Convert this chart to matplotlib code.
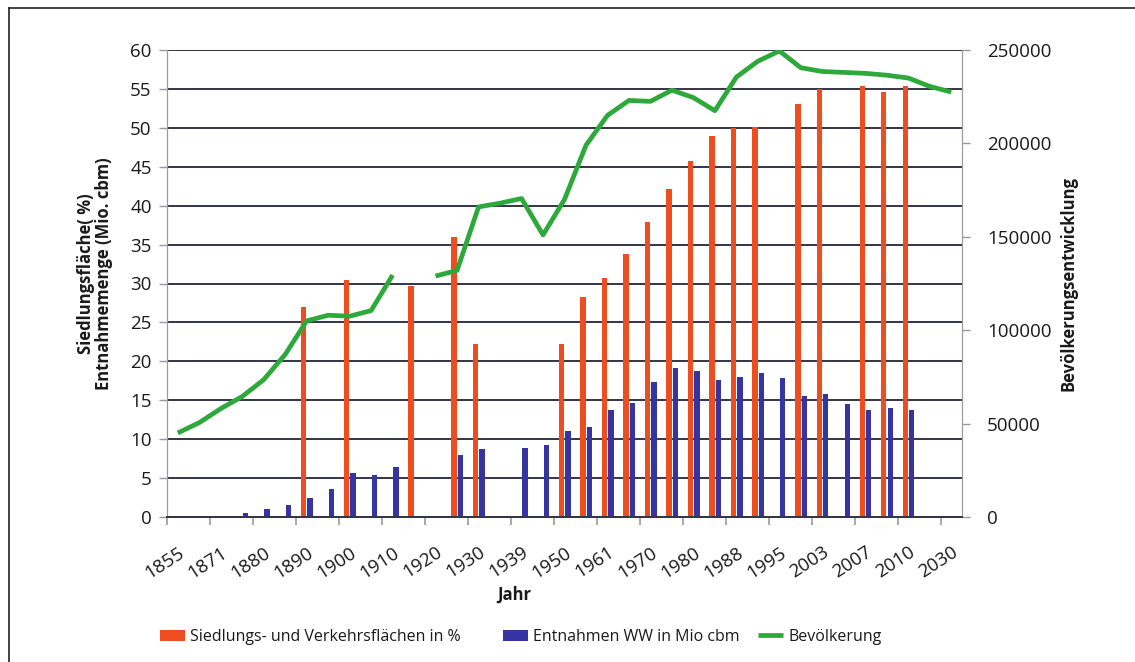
import numpy as np
import matplotlib
matplotlib.use("Agg")
import matplotlib.pyplot as plt
from matplotlib.lines import Line2D

nan = np.nan

# Category years (every second one is labelled on the axis)
years = ["1855", "1864", "1871", "1875", "1880", "1885", "1890", "1895",
         "1900", "1905", "1910", "1914", "1920", "1925", "1930", "1933",
         "1939", "1946", "1950", "1956", "1961", "1965", "1970", "1975",
         "1980", "1985", "1988", "1990", "1995", "2000", "2003", "2005",
         "2007", "2008", "2010", "2020", "2030"]

# Siedlungs- und Verkehrsflächen in %
siedlung = [nan, nan, nan, nan, nan, nan, 27.0, nan, 30.5, nan, nan, 29.7,
            nan, 36.0, 22.2, nan, nan, nan, 22.2, 28.3, 30.7, 33.8, 37.9,
            42.1, 45.7, 49.0, 50.0, 50.1, nan, 53.1, 55.0, nan, 55.4, 54.6,
            55.4, nan, nan]

# Entnahmen WW in Mio cbm
entnahme = [nan, nan, nan, 0.5, 1.0, 1.6, 2.5, 3.6, 5.6, 5.4, 6.4, nan,
            nan, 8.0, 8.7, nan, 8.9, 9.3, 11.0, 11.5, 13.7, 14.7, 17.3,
            19.1, 18.8, 17.6, 18.0, 18.5, 17.8, 15.6, 15.8, 14.5, 13.75,
            14.0, 13.75, nan, nan]

# Bevölkerung
bevoelkerung = [45000, 50500, 58000, 64500, 73500, 87000, 105000, 108000,
                107500, 110500, 129500, nan, 129000, 132000, 166000, 168000,
                170500, 151000, 170000, 199000, 215000, 223000, 222500,
                228500, 224500, 217500, 235500, 244000, 249500, 240500,
                238500, 238000, 237500, 236500, 235000, 230500, 227500]

ORANGE = "#EE4E1F"
BLUE = "#3634A3"
GREEN = "#2DA83A"
GRID = "#34344a"
SPINE = "#9a9a9a"
TXT = "#1a1a1a"

plt.rcParams["font.family"] = ["Open Sans", "DejaVu Sans"]

W, H = 1135, 662
fig = plt.figure(figsize=(W / 100, H / 100), dpi=100)
fig.patch.set_facecolor("white")

left, right, top, bottom = 167, 962, 50, 517
ax = fig.add_axes([left / W, 1 - bottom / H, (right - left) / W, (bottom - top) / H])
ax2 = ax.twinx()

x = np.arange(len(years))
bw = 0.25
ax.bar(x - 0.14, siedlung, width=bw, color=ORANGE, zorder=3,
       label="Siedlungs- und Verkehrsflächen in %")
ax.bar(x + 0.16, entnahme, width=bw, color=BLUE, zorder=3,
       label="Entnahmen WW in Mio cbm")
ax2.plot(x, bevoelkerung, color=GREEN, lw=3.4, solid_capstyle="butt",
         solid_joinstyle="round", label="Bevölkerung", zorder=4)

ax.set_xlim(-0.5, len(years) - 0.5)
ax.set_ylim(0, 60)
ax2.set_ylim(0, 250000)

ax.set_yticks(np.arange(0, 61, 5))
ax2.set_yticks(np.arange(0, 250001, 50000))
ax.yaxis.grid(True, color=GRID, lw=1.4, zorder=1)
ax.set_axisbelow(True)

# x ticks: marks between category pairs, labels on every second category
ax.set_xticks(np.arange(-0.5, len(years), 2))
ax.set_xticklabels([])
ax.set_xticks(x[::2], minor=True)
ax.set_xticklabels(years[::2], minor=True, rotation=33, ha="right",
                   rotation_mode="anchor", fontsize=13.5, color=TXT)
ax.tick_params(axis="x", which="minor", length=0, pad=19)
ax.tick_params(axis="x", which="major", length=6, width=1.2, color=SPINE)

ax.tick_params(axis="y", length=6, width=1.0, color=SPINE, labelsize=13.5,
               labelcolor=TXT, pad=5)
ax2.tick_params(axis="y", length=6, width=1.0, color=SPINE, labelsize=13.5,
                labelcolor=TXT, pad=12)

for a in (ax, ax2):
    a.spines["top"].set_visible(False)
    a.spines["left"].set_color(SPINE)
    a.spines["right"].set_color(SPINE)
    a.spines["bottom"].set_color(GRID)
    a.spines["bottom"].set_linewidth(1.4)

ax.set_ylabel("Siedlungsfläche( %)\nEntnahmemenge (Mio. cbm)", fontsize=12,
              fontweight="bold", color=TXT, linespacing=1.0)
ax.yaxis.set_label_coords(-0.068, 0.52)
ax2.set_ylabel("Bevölkerungsentwicklung", fontsize=12, fontweight="bold",
               color=TXT, labelpad=6)

fig.text(514 / W, 1 - 595 / H, "Jahr", fontsize=12, fontweight="bold",
         color=TXT, ha="center", va="center")

# legend entries anchored at their own positions along the bottom row
h1, l1 = ax.get_legend_handles_labels()
h2, l2 = ax2.get_legend_handles_labels()
handles, labels = h1 + h2, l1 + l2
for hnd, lab, xpos in zip(handles, labels, (160, 503, 758)):
    fig.legend([hnd], [lab], loc="center left",
               bbox_to_anchor=(xpos / W, 1 - 637 / H), frameon=False,
               fontsize=11.5, handlelength=1.55, handletextpad=0.35,
               borderpad=0, borderaxespad=0, labelcolor=TXT)

# outer frame (left and top edges)
fx, fy = 9 / W, 1 - 8 / H
fig.add_artist(Line2D([fx, fx], [0, fy], transform=fig.transFigure,
                      color="#222222", lw=1.2))
fig.add_artist(Line2D([fx, 1], [fy, fy], transform=fig.transFigure,
                      color="#222222", lw=1.2))

fig.savefig("out.png", dpi=100, facecolor="white")
